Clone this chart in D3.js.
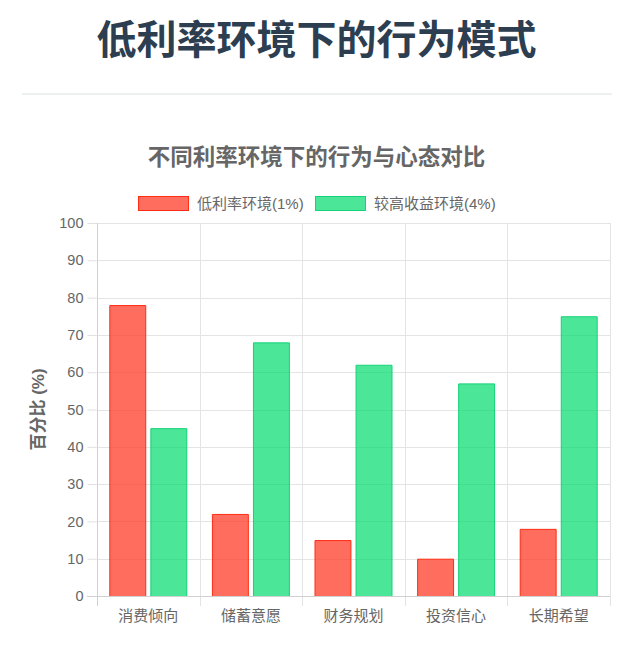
<!DOCTYPE html>
<html>
<head>
<meta charset="utf-8">
<script src="https://cdn.jsdelivr.net/npm/d3@7"></script>
<style>
  body { margin: 0; background: #fff; font-family: "Noto Sans CJK SC", "Liberation Sans", sans-serif; }
  svg text { font-family: "Liberation Sans", "Noto Sans CJK SC", sans-serif; }
  svg text.cjk { font-family: "Noto Sans CJK SC", "Liberation Sans", sans-serif; }
</style>
</head>
<body>
<svg id="chart" width="633" height="648"></svg>
<script>
var width = 633,
    height = 648;

// Data
var categories = ["消费倾向", "储蓄意愿", "财务规划", "投资信心", "长期希望"];
var low_rate = [78, 22, 15, 10, 18];
var high_yield = [45, 68, 62, 57, 75];
var series_names = ["低利率环境(1%)", "较高收益环境(4%)"];
var y_ticks = [0, 10, 20, 30, 40, 50, 60, 70, 80, 90, 100];

var fills = ["rgba(255, 60, 40, 0.75)", "rgba(0, 220, 110, 0.7)"];
var strokes = ["#ff2d14", "#12d377"];

var margin = { top: 223, right: 23, bottom: 52, left: 97 };
var svg = d3.select("#chart");

// Header
svg.append("text")
    .attr("class", "cjk")
    .attr("x", width / 2)
    .attr("y", 54)
    .attr("text-anchor", "middle")
    .attr("font-size", 40)
    .attr("font-weight", "bold")
    .attr("fill", "#2c3e50")
    .text("低利率环境下的行为模式");

svg.append("rect")
    .attr("x", 22).attr("y", 93)
    .attr("width", 590).attr("height", 2)
    .attr("fill", "#ecf0f1");

// Chart title
svg.append("text")
    .attr("class", "cjk")
    .attr("x", 316.5)
    .attr("y", 165)
    .attr("text-anchor", "middle")
    .attr("font-size", 22.5)
    .attr("font-weight", "bold")
    .attr("fill", "#666")
    .text("不同利率环境下的行为与心态对比");

// Legend
var legend_x = [138, 315];
series_names.forEach(function (name, i) {
    var g = svg.append("g").attr("transform", "translate(" + legend_x[i] + ",196)");
    g.append("rect")
        .attr("x", 0.5).attr("y", 0.5)
        .attr("width", 50).attr("height", 14)
        .attr("fill", fills[i])
        .attr("stroke", strokes[i])
        .attr("stroke-width", 1);
    g.append("text")
        .attr("x", 59).attr("y", 13)
        .attr("font-size", 15)
        .attr("fill", "#666")
        .text(name);
});

// Scales
var x0 = d3.scaleBand()
    .domain(categories)
    .range([margin.left, width - margin.right]);

var x1 = d3.scaleBand()
    .domain([0, 1])
    .range([0, x0.bandwidth() * 0.8])
    .paddingInner(0.1)
    .paddingOuter(0.05);

var y = d3.scaleLinear()
    .domain([0, 100])
    .range([height - margin.bottom, margin.top]);

// Grid
var grid = svg.append("g").attr("stroke", "#e4e4e4").attr("stroke-width", 1);
grid.selectAll("line.h")
    .data(y_ticks.slice(1))
    .join("line")
    .attr("class", "h")
    .attr("x1", margin.left).attr("x2", width - margin.right)
    .attr("y1", function (d) { return Math.round(y(d)) + 0.5; })
    .attr("y2", function (d) { return Math.round(y(d)) + 0.5; });

var bounds = categories.map(function (c) { return x0(c); }).concat([width - margin.right]);
grid.selectAll("line.v")
    .data(bounds.slice(1))
    .join("line")
    .attr("class", "v")
    .attr("x1", function (d) { return Math.round(d) + 0.5; })
    .attr("x2", function (d) { return Math.round(d) + 0.5; })
    .attr("y1", margin.top).attr("y2", height - margin.bottom + 10);

// Y axis
var yAxis = svg.append("g")
    .attr("transform", "translate(" + (margin.left + 0.5) + ",0)")
    .call(d3.axisLeft(y).tickValues(y_ticks).tickSize(10).tickPadding(4));
yAxis.select(".domain").attr("stroke", "#d0d0d0").attr("d", "M0," + margin.top + "V" + (height - margin.bottom + 10));
yAxis.selectAll(".tick line").attr("stroke", "#e0e0e0");
yAxis.selectAll(".tick text").attr("font-size", 14.5).attr("fill", "#666")
    .style("font-family", "'Liberation Sans', sans-serif");

// X axis
var xAxis = svg.append("g")
    .attr("transform", "translate(0," + (Math.round(y(0)) + 0.5) + ")")
    .call(d3.axisBottom(x0).tickSize(0).tickPadding(14));
xAxis.select(".domain").attr("stroke", "#d0d0d0").attr("d", "M" + (margin.left - 10) + ",0H" + (width - margin.right));
xAxis.selectAll(".tick text").attr("font-size", 15).attr("fill", "#666")
    .style("font-family", "'Noto Sans CJK SC', sans-serif");

// Y title
svg.append("text")
    .attr("transform", "translate(44," + ((margin.top + height - margin.bottom) / 2) + ") rotate(-90)")
    .attr("text-anchor", "middle")
    .attr("font-size", 17)
    .attr("font-weight", "bold")
    .attr("fill", "#666")
    .text("百分比 (%)");

// Bars
var series = [low_rate, high_yield];
var bar_groups = svg.append("g")
    .selectAll("g")
    .data(categories)
    .join("g")
    .attr("transform", function (d) {
        return "translate(" + (x0(d) + x0.bandwidth() * 0.1) + ",0)";
    });

bar_groups.selectAll("path")
    .data(function (d, ci) {
        return series.map(function (s, si) { return { si: si, v: s[ci] }; });
    })
    .join("path")
    .attr("fill", function (d) { return fills[d.si]; })
    .attr("stroke", function (d) { return strokes[d.si]; })
    .attr("stroke-width", 1)
    .attr("d", function (d) {
        var x = x1(d.si) + 0.5,
            w = x1.bandwidth() - 1,
            top = y(d.v) + 0.5,
            bottom = y(0);
        return "M" + x + "," + bottom + "V" + top + "H" + (x + w) + "V" + bottom;
    });
</script>
</body>
</html>
